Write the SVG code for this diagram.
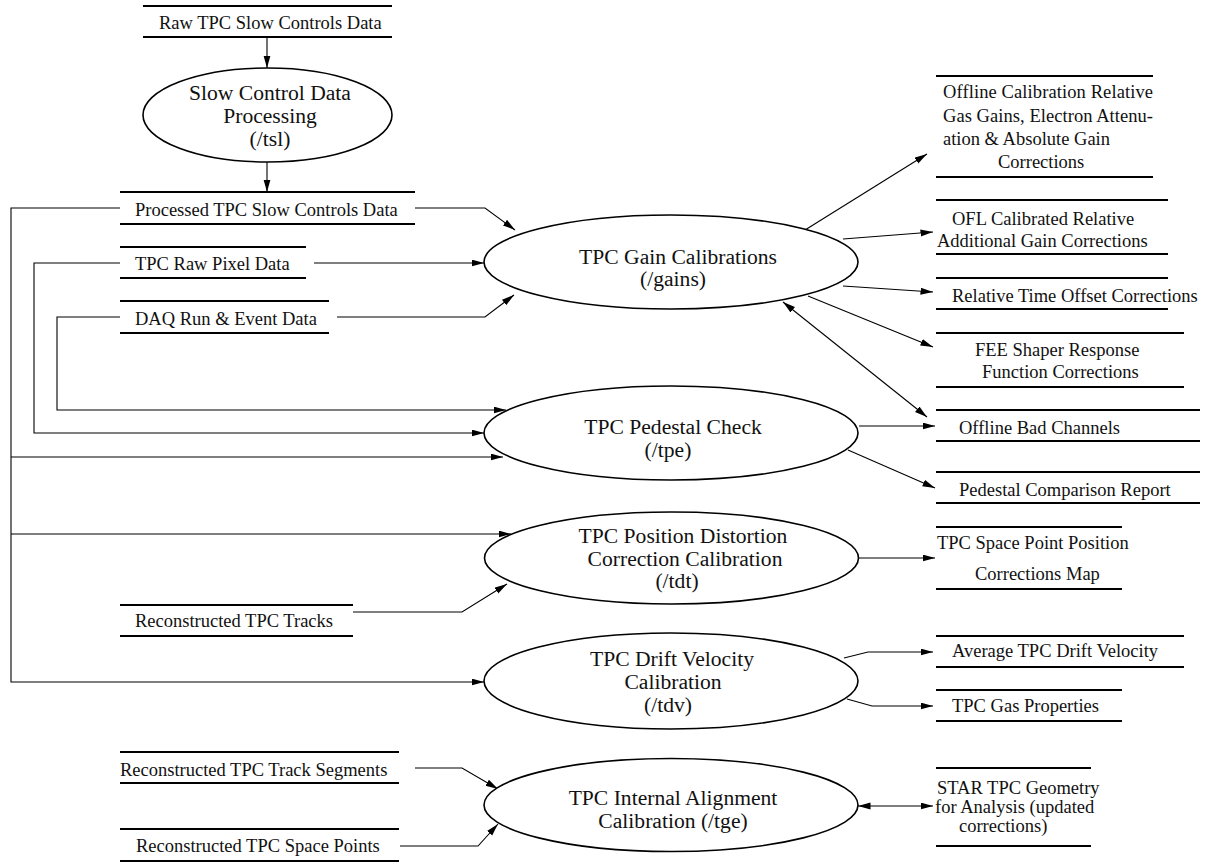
<svg xmlns="http://www.w3.org/2000/svg" width="1212" height="863" viewBox="0 0 1212 863">
  <defs>
    <marker id="arrow" markerUnits="userSpaceOnUse" markerWidth="13" markerHeight="8" refX="12.5" refY="3.5" orient="auto-start-reverse">
      <path d="M0,0 L12.5,3.5 L0,7 z" fill="#000"/>
    </marker>
    <style>
      .store line { stroke: #000; stroke-width: 1.8; }
      .proc ellipse { fill: #fff; stroke: #000; stroke-width: 1.6; }
      .lbl { font-family: "Liberation Serif", "Times New Roman", serif; font-size: 18.5px; fill: #111; }
      .ptxt { font-family: "Liberation Serif", "Times New Roman", serif; font-size: 21.6px; fill: #111; text-anchor: middle; }
      .conn path { fill: none; stroke: #000; stroke-width: 1.1; }
      .conn .fw { marker-end: url(#arrow); }
      .conn .bi { marker-start: url(#arrow); marker-end: url(#arrow); }
    </style>
  </defs>
  <rect width="1212" height="863" fill="#fff"/>

  <!-- connectors -->
  <g id="connectors" class="conn">
    <path class="fw" d="M267,37 V68"/>
    <path class="fw" d="M267,162 V192"/>
    <path class="fw" d="M415,208 H485 L515,230"/>
    <path class="fw" d="M120,208 H11 V682 H484"/>
    <path class="fw" d="M11,457 H503"/>
    <path class="fw" d="M11,534 H511"/>
    <path class="fw" d="M314,263 H484"/>
    <path class="fw" d="M120,263 H34 V433 H484"/>
    <path class="fw" d="M337,317 H485 L514,295"/>
    <path class="fw" d="M120,317 H57 V410 H506"/>
    <path class="fw" d="M805,230 L927,154"/>
    <path class="fw" d="M843,239 L933,232"/>
    <path class="fw" d="M843,286 L933,292"/>
    <path class="fw" d="M808,296 L933,347"/>
    <path class="bi" d="M783,302 L927,417"/>
    <path class="fw" d="M859,426 H935"/>
    <path class="fw" d="M848,450 L935,488"/>
    <path class="fw" d="M858,558 H935"/>
    <path class="fw" d="M353,612 H462 L507,584"/>
    <path class="fw" d="M844,658 L868,652 H933"/>
    <path class="fw" d="M847,699 L872,706 H933"/>
    <path class="fw" d="M415,768 H462 L498,789"/>
    <path class="fw" d="M400,846 H478 L498,824"/>
    <path class="bi" d="M858,806 H933"/>
  </g>

  <!-- processes -->
  <g id="tsl" class="proc">
    <ellipse cx="267.5" cy="115" rx="124.5" ry="47"/>
    <text class="ptxt" x="270" y="100">Slow Control Data</text>
    <text class="ptxt" x="270" y="123">Processing</text>
    <text class="ptxt" x="270" y="146">(/tsl)</text>
  </g>
  <g id="gains" class="proc">
    <ellipse cx="671" cy="262" rx="187" ry="47"/>
    <text class="ptxt" x="678" y="264">TPC Gain Calibrations</text>
    <text class="ptxt" x="673" y="286">(/gains)</text>
  </g>
  <g id="tpe" class="proc">
    <ellipse cx="671" cy="433" rx="187" ry="47"/>
    <text class="ptxt" x="673" y="434">TPC Pedestal Check</text>
    <text class="ptxt" x="668" y="457">(/tpe)</text>
  </g>
  <g id="tdt" class="proc">
    <ellipse cx="671.5" cy="558" rx="187" ry="46"/>
    <text class="ptxt" x="683" y="543">TPC Position Distortion</text>
    <text class="ptxt" x="685" y="566">Correction Calibration</text>
    <text class="ptxt" x="677" y="588">(/tdt)</text>
  </g>
  <g id="tdv" class="proc">
    <ellipse cx="671" cy="681" rx="187" ry="48"/>
    <text class="ptxt" x="672" y="666">TPC Drift Velocity</text>
    <text class="ptxt" x="673" y="689">Calibration</text>
    <text class="ptxt" x="668" y="712">(/tdv)</text>
  </g>
  <g id="tge" class="proc">
    <ellipse cx="671" cy="805" rx="187" ry="46.5"/>
    <text class="ptxt" x="673" y="805">TPC Internal Alignment</text>
    <text class="ptxt" x="673" y="828">Calibration (/tge)</text>
  </g>

  <!-- data stores -->
  <g id="raw-slow" class="store">
    <line x1="143" y1="6" x2="392" y2="6"/><line x1="143" y1="37" x2="392" y2="37"/>
    <text class="lbl" x="159" y="29">Raw TPC Slow Controls Data</text>
  </g>
  <g id="processed-slow" class="store">
    <line x1="120" y1="192" x2="415" y2="192"/><line x1="120" y1="224" x2="415" y2="224"/>
    <text class="lbl" x="135" y="216">Processed TPC Slow Controls Data</text>
  </g>
  <g id="raw-pixel" class="store">
    <line x1="120" y1="247" x2="306" y2="247"/><line x1="120" y1="278" x2="306" y2="278"/>
    <text class="lbl" x="135" y="270">TPC Raw Pixel Data</text>
  </g>
  <g id="daq" class="store">
    <line x1="120" y1="301" x2="329" y2="301"/><line x1="120" y1="333" x2="329" y2="333"/>
    <text class="lbl" x="135" y="325">DAQ Run &amp; Event Data</text>
  </g>
  <g id="tracks" class="store">
    <line x1="120" y1="605" x2="353" y2="605"/><line x1="120" y1="636" x2="353" y2="636"/>
    <text class="lbl" x="135" y="627">Reconstructed TPC Tracks</text>
  </g>
  <g id="segments" class="store">
    <line x1="120" y1="752" x2="399" y2="752"/><line x1="120" y1="783" x2="399" y2="783"/>
    <text class="lbl" x="120" y="776">Reconstructed TPC Track Segments</text>
  </g>
  <g id="space-points" class="store">
    <line x1="120" y1="829" x2="399" y2="829"/><line x1="120" y1="861" x2="399" y2="861"/>
    <text class="lbl" x="136" y="852">Reconstructed TPC Space Points</text>
  </g>
  <g id="ofl-calib" class="store">
    <line x1="936" y1="76" x2="1153" y2="76"/><line x1="936" y1="177" x2="1153" y2="177"/>
    <text class="lbl" x="943" y="98" textLength="210" lengthAdjust="spacing">Offline Calibration Relative</text>
    <text class="lbl" x="943" y="122" textLength="210" lengthAdjust="spacing">Gas Gains, Electron Attenu-</text>
    <text class="lbl" x="943" y="145">ation &amp; Absolute Gain</text>
    <text class="lbl" x="998" y="168">Corrections</text>
  </g>
  <g id="ofl-additional" class="store">
    <line x1="936" y1="200" x2="1168" y2="200"/><line x1="936" y1="254" x2="1168" y2="254"/>
    <text class="lbl" x="952" y="225">OFL Calibrated Relative</text>
    <text class="lbl" x="937" y="247">Additional Gain Corrections</text>
  </g>
  <g id="time-offset" class="store">
    <line x1="936" y1="278" x2="1168" y2="278"/><line x1="936" y1="309" x2="1168" y2="309"/>
    <text class="lbl" x="952" y="302">Relative Time Offset Corrections</text>
  </g>
  <g id="fee" class="store">
    <line x1="936" y1="333" x2="1184" y2="333"/><line x1="936" y1="387" x2="1184" y2="387"/>
    <text class="lbl" x="975" y="356">FEE Shaper Response</text>
    <text class="lbl" x="982" y="378">Function Corrections</text>
  </g>
  <g id="bad-channels" class="store">
    <line x1="936" y1="410" x2="1200" y2="410"/><line x1="936" y1="441" x2="1200" y2="441"/>
    <text class="lbl" x="959" y="434">Offline Bad Channels</text>
  </g>
  <g id="pedestal-report" class="store">
    <line x1="936" y1="472" x2="1200" y2="472"/><line x1="936" y1="503" x2="1200" y2="503"/>
    <text class="lbl" x="959" y="496">Pedestal Comparison Report</text>
  </g>
  <g id="position-map" class="store">
    <line x1="936" y1="527" x2="1122" y2="527"/><line x1="936" y1="589" x2="1122" y2="589"/>
    <text class="lbl" x="937" y="549">TPC Space Point Position</text>
    <text class="lbl" x="975" y="580">Corrections Map</text>
  </g>
  <g id="drift-velocity" class="store">
    <line x1="936" y1="636" x2="1184" y2="636"/><line x1="936" y1="667" x2="1184" y2="667"/>
    <text class="lbl" x="952" y="657">Average TPC Drift Velocity</text>
  </g>
  <g id="gas-properties" class="store">
    <line x1="936" y1="690" x2="1122" y2="690"/><line x1="936" y1="721" x2="1122" y2="721"/>
    <text class="lbl" x="952" y="712">TPC Gas Properties</text>
  </g>
  <g id="geometry" class="store">
    <line x1="936" y1="768" x2="1091" y2="768"/><line x1="936" y1="846" x2="1091" y2="846"/>
    <text class="lbl" x="937" y="794">STAR TPC Geometry</text>
    <text class="lbl" x="935" y="813">for Analysis (updated</text>
    <text class="lbl" x="959" y="832">corrections)</text>
  </g>
</svg>
